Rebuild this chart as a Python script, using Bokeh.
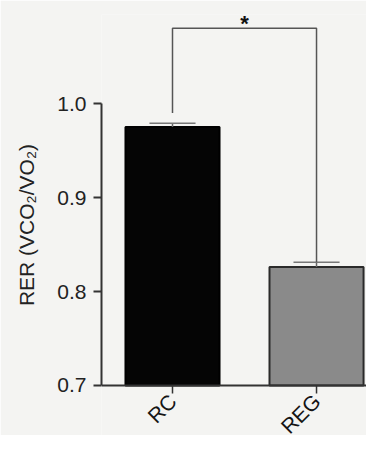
import math
from bokeh.plotting import figure
from bokeh.models import FixedTicker, Range1d
from bokeh.core.properties import value
from bokeh.embed import file_html
from bokeh.resources import INLINE

# data
groups = ["RC", "REG"]
x_pos = [1, 2]
means = [0.975, 0.826]
errors = [0.004, 0.005]
y_ticks = [0.7, 0.8, 0.9, 1.0]
tick_labels = ["0.7", "0.8", "0.9", "1.0"]
bar_colors = ["#050505", "#8a8a8a"]
bar_lines = ["#000000", "#2a2a2a"]
sig_y = 1.08
sig_label = "*"
base = 0.7

BG = "#f4f4f2"
AX = "#333333"
FONT = "Liberation Sans"

W, H = 366, 435
LEFT, TOP = 101, 14
Y0, Y1 = 0.6468, 1.0947
X0, X1 = 0.507, 2.347

p = figure(width=W, height=H, output_backend="svg", toolbar_location=None,
           x_range=Range1d(X0, X1), y_range=Range1d(Y0, Y1),
           min_border_left=LEFT, min_border_right=0, min_border_top=TOP, min_border_bottom=0)
p.background_fill_color = BG
p.border_fill_color = BG
p.outline_line_color = None
p.grid.visible = False

# pixel -> data helper for short tick marks
px_per_y = (H - TOP) / (Y1 - Y0)
tick_len = 8 / px_per_y

# bars
bar_w = 0.653
p.vbar(x=x_pos, top=means, bottom=base, width=bar_w, fill_color=bar_colors,
       line_color=bar_lines, line_width=2)

# error bars
cap = 0.32
tops = [m + e for m, e in zip(means, errors)]
p.segment(x0=x_pos, y0=means, x1=x_pos, y1=tops, line_color="#666666", line_width=1.5)
p.segment(x0=[x - cap / 2 for x in x_pos], y0=tops, x1=[x + cap / 2 for x in x_pos], y1=tops,
          line_color="#777777", line_width=1.5)

# significance bracket
p.line(x=[x_pos[0], x_pos[0], x_pos[1], x_pos[1]],
       y=[tops[0] + 0.011, sig_y, sig_y, tops[1]], line_color="#555555", line_width=1.5)
p.text(x=[(x_pos[0] + x_pos[1]) / 2], y=[sig_y + 0.005], text=[sig_label], text_align="center",
       text_baseline="alphabetic", text_font=value(FONT), text_font_size="22px",
       text_color="#111111", text_font_style="bold")

# x axis drawn at the baseline (line, ticks, rotated category labels)
p.segment(x0=[X0], y0=[base], x1=[X1], y1=[base], line_color=AX, line_width=2)
p.segment(x0=x_pos, y0=[base] * len(x_pos), x1=x_pos, y1=[base - tick_len] * len(x_pos),
          line_color=AX, line_width=1.5)
p.text(x=x_pos, y=[base] * len(x_pos), text=groups, angle=math.pi / 4,
       text_align="right", text_baseline="top", x_offset=-8, y_offset=4,
       text_font=value(FONT), text_font_size="21px", text_color="#151515")
p.xaxis.visible = False

# y axis
ya = p.yaxis[0]
ya.ticker = FixedTicker(ticks=y_ticks)
ya.major_label_overrides = {t: l for t, l in zip(y_ticks, tick_labels)}
ya.bounds = (0.7, 1.0)
ya.axis_label = "RER (VCO\u2082/VO\u2082)"
ya.axis_label_text_font = FONT
ya.axis_label_text_font_size = "21px"
ya.axis_label_text_font_style = "normal"
ya.axis_label_text_color = "#222222"
ya.axis_label_standoff = 16
ya.major_label_text_font = FONT
ya.major_label_text_font_size = "21px"
ya.major_label_text_color = "#222222"
ya.major_label_standoff = 7
ya.axis_line_color = AX
ya.axis_line_width = 2
ya.major_tick_line_color = AX
ya.major_tick_line_width = 2
ya.major_tick_out = 8
ya.major_tick_in = 0
ya.minor_tick_line_color = None

open("out.html", "w").write(file_html(p, INLINE))
